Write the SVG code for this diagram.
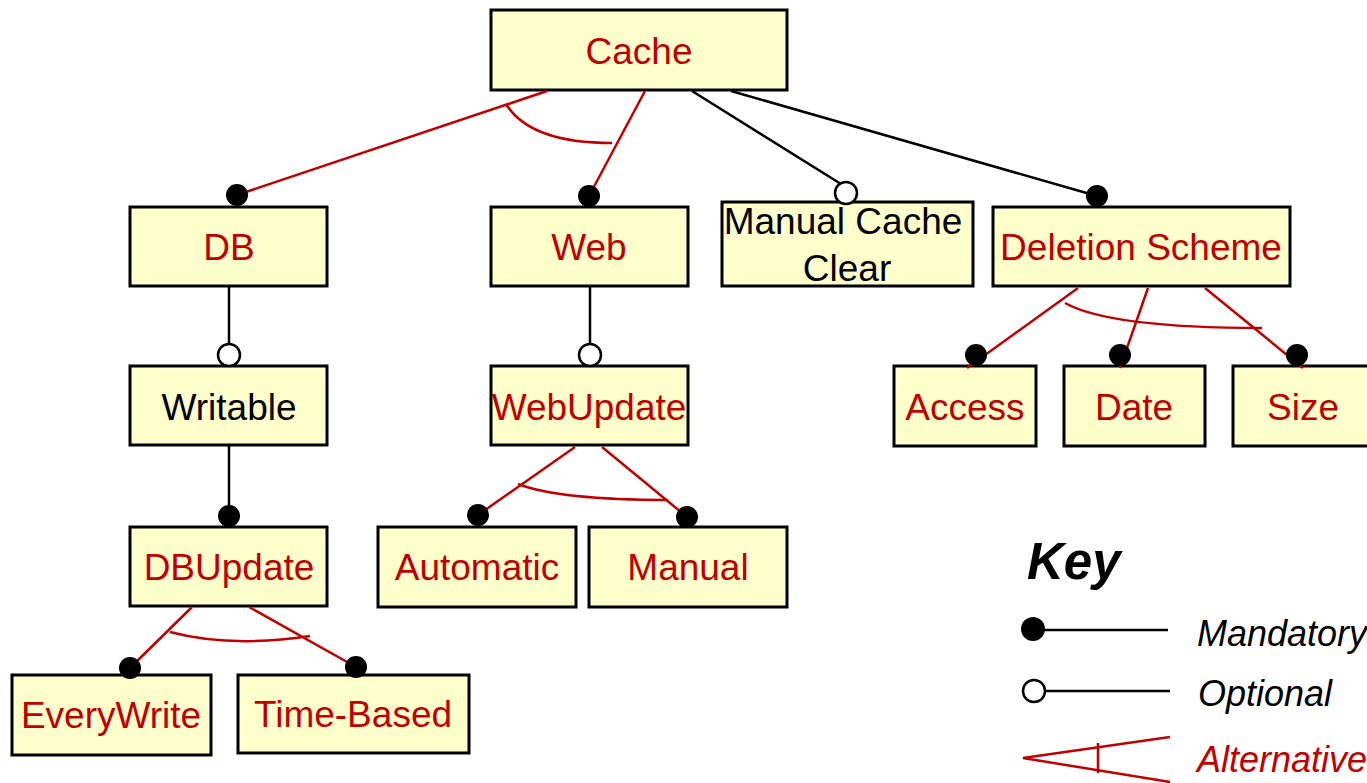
<svg xmlns="http://www.w3.org/2000/svg" width="1367" height="783" viewBox="0 0 1367 783">
<style>
.box{fill:#ffffcc;stroke:#000;stroke-width:3}
.t{font-family:"Liberation Sans",Arial,sans-serif;font-size:37px;text-anchor:middle}
.r{fill:#c00000}
.k{fill:#000}
.rl{stroke:#c00000;stroke-width:2.5;fill:none}
.bl{stroke:#000;stroke-width:2.5;fill:none}
.dot{fill:#000}
.odot{fill:#fff;stroke:#000;stroke-width:2.5}
.key{font-family:"Liberation Sans",Arial,sans-serif;font-style:italic;font-size:36px}
</style>
<rect width="1367" height="783" fill="#fff"/>
<g id="nodes">
<g id="cache"><rect class="box" x="491" y="10" width="296" height="80"/><text class="t r" x="639" y="64">Cache</text></g>
<g id="db"><rect class="box" x="130" y="207" width="197" height="79"/><text class="t r" x="229" y="260">DB</text></g>
<g id="web"><rect class="box" x="491" y="207" width="197" height="79"/><text class="t r" x="589" y="260">Web</text></g>
<g id="mcc"><rect class="box" x="722" y="202" width="251" height="84"/><text class="t k" x="843" y="234">Manual Cache</text><text class="t k" x="847" y="281">Clear</text></g>
<g id="del"><rect class="box" x="993" y="207" width="297" height="79"/><text class="t r" x="1141" y="260">Deletion Scheme</text></g>
<g id="writable"><rect class="box" x="130" y="366" width="197" height="79"/><text class="t k" x="229" y="420">Writable</text></g>
<g id="webupdate"><rect class="box" x="491" y="366" width="197" height="79"/><text class="t r" x="589" y="420">WebUpdate</text></g>
<g id="access"><rect class="box" x="894" y="366" width="142" height="80"/><text class="t r" x="965" y="420">Access</text></g>
<g id="date"><rect class="box" x="1064" y="366" width="141" height="80"/><text class="t r" x="1134" y="420">Date</text></g>
<g id="size"><rect class="box" x="1233" y="366" width="140" height="80"/><text class="t r" x="1303" y="420">Size</text></g>
<g id="dbupdate"><rect class="box" x="130" y="527" width="197" height="79"/><text class="t r" x="229" y="580">DBUpdate</text></g>
<g id="automatic"><rect class="box" x="378" y="527" width="198" height="80"/><text class="t r" x="477" y="580">Automatic</text></g>
<g id="manual"><rect class="box" x="589" y="527" width="198" height="80"/><text class="t r" x="688" y="580">Manual</text></g>
<g id="everywrite"><rect class="box" x="12" y="675" width="199" height="80"/><text class="t r" x="111" y="728">EveryWrite</text></g>
<g id="timebased"><rect class="box" x="238" y="675" width="231" height="78"/><text class="t r" x="353" y="727">Time-Based</text></g>
</g>
<g id="connectors">
<line class="rl" x1="547" y1="91" x2="237" y2="195"/>
<line class="rl" x1="645" y1="91" x2="589" y2="196"/>
<path class="rl" d="M506 104 Q530 143 612 143"/>
<line class="bl" x1="692" y1="91" x2="841" y2="184"/>
<line class="bl" x1="731" y1="91" x2="1097" y2="196"/>
<line class="bl" x1="229" y1="287" x2="229" y2="344"/>
<line class="bl" x1="229" y1="446" x2="229" y2="516"/>
<line class="bl" x1="590" y1="287" x2="590" y2="344"/>
<line class="rl" x1="192" y1="607" x2="130" y2="668"/>
<line class="rl" x1="249" y1="607" x2="356" y2="667"/>
<path class="rl" d="M170 632 Q230 648 310 636"/>
<line class="rl" x1="575" y1="447" x2="478" y2="515"/>
<line class="rl" x1="602" y1="447" x2="687" y2="517"/>
<path class="rl" d="M518 484 Q560 500 668 500"/>
<line class="rl" x1="1078" y1="288" x2="967" y2="368"/>
<line class="rl" x1="1148" y1="288" x2="1120" y2="368"/>
<line class="rl" x1="1205" y1="288" x2="1303" y2="368"/>
<path class="rl" d="M1065 303 Q1110 328 1262 328"/>
<circle class="dot" cx="237" cy="195" r="11"/>
<circle class="dot" cx="589" cy="196" r="11"/>
<circle class="odot" cx="846" cy="193" r="11"/>
<circle class="dot" cx="1097" cy="196" r="11"/>
<circle class="odot" cx="229" cy="355" r="11"/>
<circle class="odot" cx="590" cy="355" r="11"/>
<circle class="dot" cx="229" cy="516" r="11"/>
<circle class="dot" cx="976" cy="355" r="11"/>
<circle class="dot" cx="1120" cy="355" r="11"/>
<circle class="dot" cx="1297" cy="355" r="11"/>
<circle class="dot" cx="478" cy="515" r="11"/>
<circle class="dot" cx="687" cy="517" r="11"/>
<circle class="dot" cx="130" cy="668" r="11"/>
<circle class="dot" cx="356" cy="667" r="11"/>
</g>
<g id="key">
<text x="1027" y="579" font-family="'Liberation Sans',Arial,sans-serif" font-weight="bold" font-style="italic" font-size="51" fill="#000">Key</text>
<line class="bl" x1="1033" y1="630" x2="1168" y2="630"/>
<circle class="dot" cx="1033" cy="629" r="12"/>
<text class="key" x="1197" y="646" fill="#000">Mandatory</text>
<line class="bl" x1="1045" y1="691" x2="1170" y2="691"/>
<circle class="odot" cx="1034" cy="691" r="11"/>
<text class="key" x="1198" y="706" fill="#000">Optional</text>
<polyline class="rl" points="1170,737 1023,758 1170,782"/>
<line class="rl" x1="1098" y1="743" x2="1098" y2="773"/>
<text class="key" x="1197" y="772" fill="#c00000">Alternative</text>
</g>
</svg>
